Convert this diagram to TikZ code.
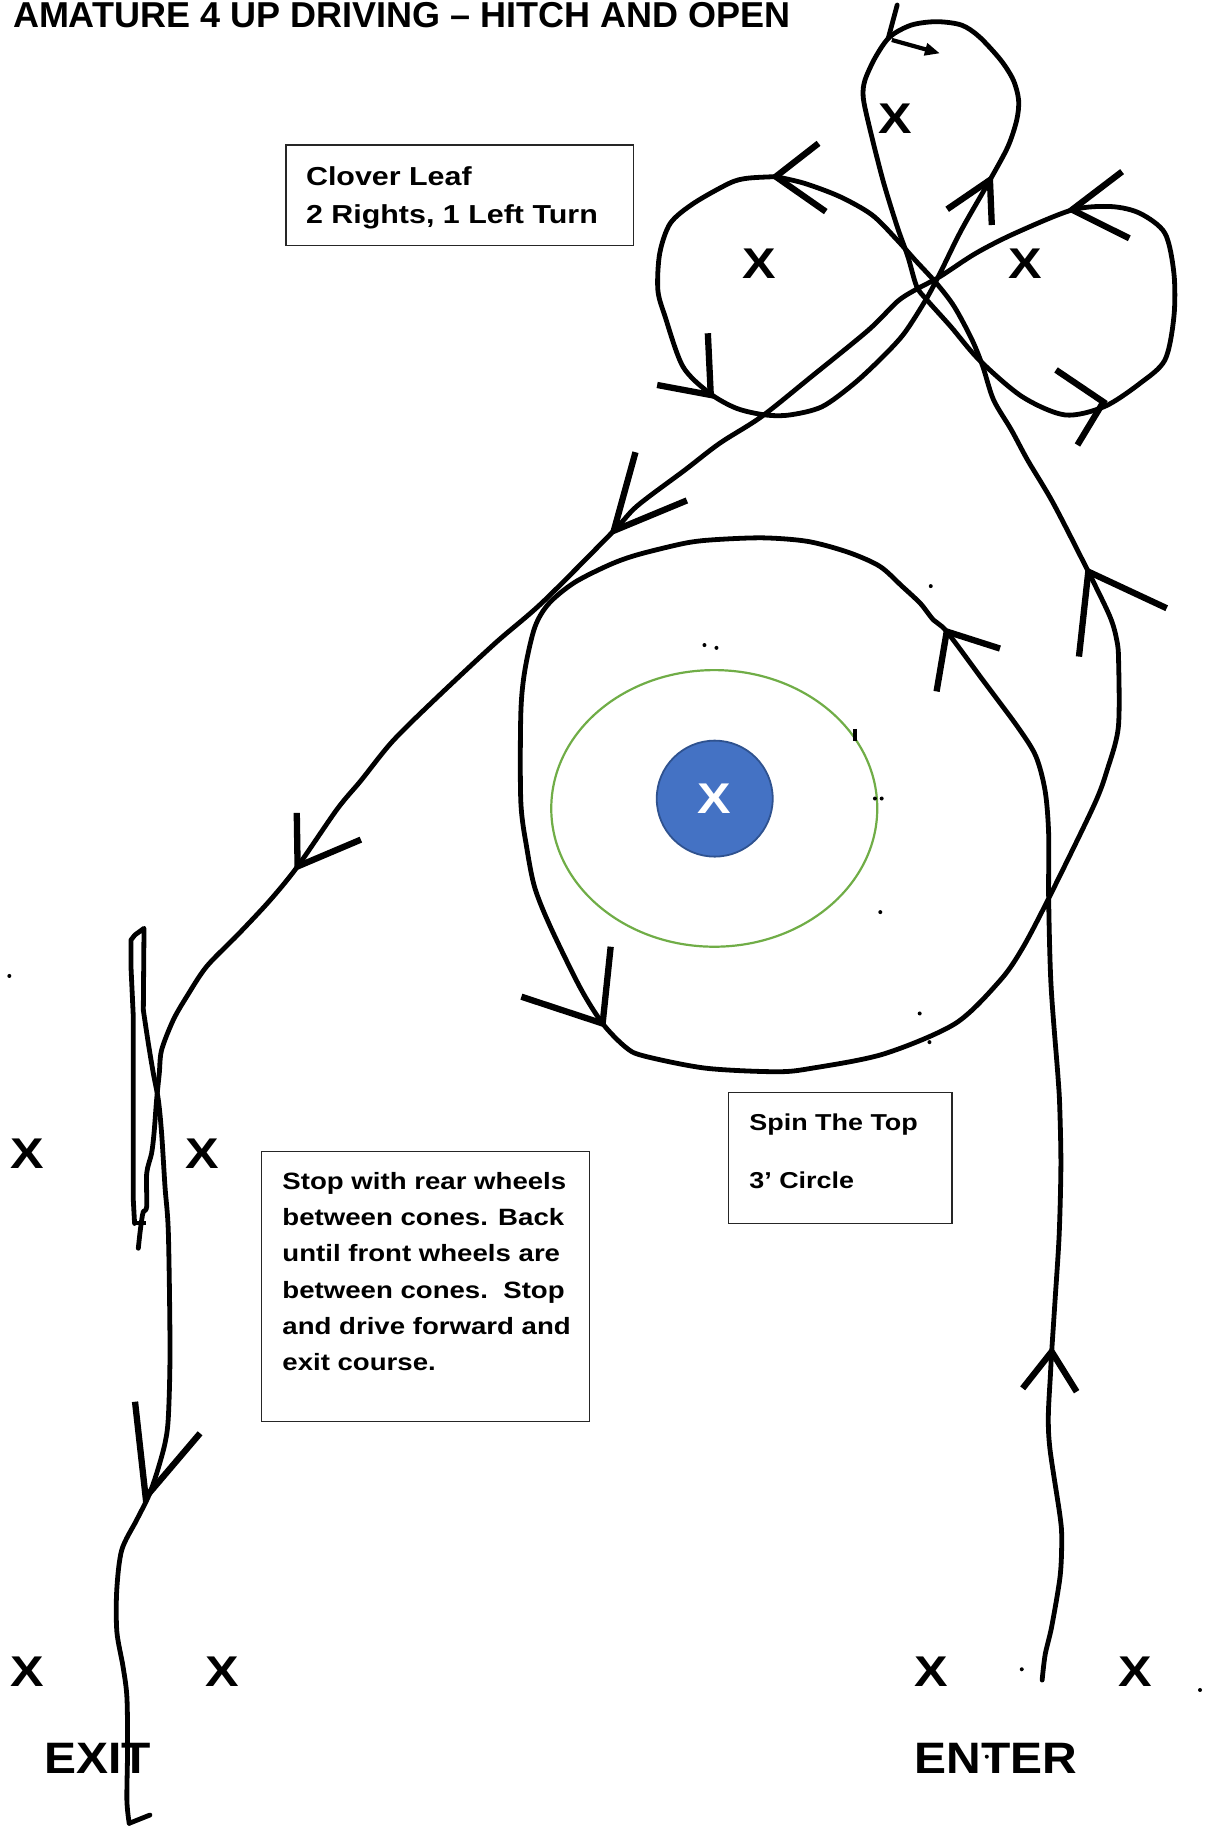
\documentclass[tikz,border=0pt]{standalone}
\usepackage{fontspec}
\usetikzlibrary{arrows.meta}
\setmainfont{Liberation Sans}
\newfontfamily\blk[FakeStretch=1.17]{Liberation Sans}
\newfontfamily\blkn[FakeStretch=1.09]{Liberation Sans}
\newfontfamily\ttl{Liberation Sans}
\definecolor{spinblue}{HTML}{4472C4}
\definecolor{spinedge}{HTML}{2F528F}
\definecolor{spingreen}{HTML}{70AD47}
\tikzset{
  route/.style={line width=4.8pt,line cap=round,line join=round},
  barb/.style={line width=6.3pt,line cap=butt},
  txtbox/.style={line width=1.2pt,draw=black!85},
  cone/.style={inner sep=0pt,font=\blk\bfseries\fontsize{43}{43}\selectfont},
  boxtext/.style={inner sep=0pt,anchor=base west,font=\blk\bfseries\fontsize{23.6}{28}\selectfont},
  speck/.style={fill=black,circle,inner sep=0pt,minimum size=4pt},
}
\begin{document}
\begin{tikzpicture}[x=1.1652pt,y=-1.1652pt]
\useasboundingbox (0,0) rectangle (1035,1568);
% title
\node[inner sep=0pt,anchor=base west,font=\ttl\bfseries\fontsize{36}{40}\selectfont] (title) at (11,23.4) {AMATURE 4 UP DRIVING – HITCH AND OPEN};
% text boxes
\draw[txtbox] (245.5,124.5) rectangle (544,211);
\node[boxtext,font=\blk\bfseries\fontsize{26}{30}\selectfont] (cl1) at (262.5,158.8) {Clover Leaf};
\node[boxtext,font=\blk\bfseries\fontsize{26}{30}\selectfont] (cl2) at (262.5,192) {2 Rights, 1 Left Turn};
\draw[txtbox] (625.2,937.8) rectangle (817,1049.9);
\node[boxtext,font=\blk\bfseries\fontsize{23}{28}\selectfont] (sp1) at (643,970) {Spin The Top};
\node[boxtext,font=\blk\bfseries\fontsize{23}{28}\selectfont] (sp2) at (643,1020) {3’ Circle};
\draw[txtbox] (224.4,988.4) rectangle (505.9,1220.1);
\node[boxtext] (st1) at (242.2,1020.5) {Stop with rear wheels};
\node[boxtext] (st2) at (242.2,1051.7) {between cones. Back};
\node[boxtext] (st3) at (242.2,1082.9) {until front wheels are};
\node[boxtext] (st4) at (242.2,1114.1) {between cones.\ \ Stop};
\node[boxtext] (st5) at (242.2,1145.3) {and drive forward and};
\node[boxtext] (st6) at (242.2,1176.5) {exit course.};
% cones
\node[cone] (c1) at (768.4,102.3) {X};
\node[cone] (c2) at (652,226.7) {X};
\node[cone] (c3) at (880.3,226.7) {X};
\node[cone] (c4) at (23.6,990.5) {X};
\node[cone] (c5) at (173.8,990.5) {X};
\node[cone] (c6) at (23.8,1434.7) {X};
\node[cone] (c7) at (190.8,1434.7) {X};
\node[cone] (c8) at (799.3,1434.7) {X};
\node[cone] (c9) at (974.2,1434.7) {X};
\node[inner sep=0pt,anchor=base west,font=\blkn\bfseries\fontsize{44}{44}\selectfont] (exit) at (38,1522) {EXIT};
\node[inner sep=0pt,anchor=base west,font=\blkn\bfseries\fontsize{44}{44}\selectfont] (enter) at (785,1522) {ENTER};
% spin the top circle
\draw[spingreen,line width=2.2pt] (613,693.8) ellipse [x radius=139.9,y radius=118.7];
\node[circle,fill=spinblue,draw=spinedge,line width=1.8pt,minimum size=116pt,inner sep=0pt] (top) at (613.4,685.4) {};
\node[cone,text=white] (topx) at (top.center) {X};
% specks
\foreach \p in {(604.6,553.6),(614.9,556),(750.9,685.3),(756.7,685.3),(755.5,782.8),(789.3,869.8),(797.7,894.4),(798.8,503),(8,837.6),(876.9,1432.6),(1029.9,1450.4),(846.9,1507.6)}
  \node[speck] at \p {};
\draw[line width=4pt] (733.7,625.6) -- (733.7,636.3);
% route: enter and spin the top
\draw[route] plot[smooth,tension=0.5] coordinates {(894.4,1441.9) (897,1420) (902.6,1396) (909.8,1353) (911.2,1321.7) (909.8,1301.6) (901.2,1244.4) (899.7,1215.8) (901.5,1180) (902.6,1160) (905.5,1115.7) (909,1060) (910.5,1000) (909.5,950) (908,924) (902,845) (900,771) (900,716) (897,679) (889,649) (873.5,624) (843,583) (812.5,542) (801,532) (790,518) (774,503) (755,486) (728,474) (693.5,464.7) (655,461.6) (613,463.2) (587.8,466.2) (547.5,476) (523.4,484.6) (492.9,500) (471,518) (459,538.3) (450.5,575) (447,611.8) (447,688.4) (452.2,728.3) (459,762) (472.5,795.7) (498,847.8) (517.2,878.4) (536.4,898.3) (551.7,906) (605.3,916.7) (666.6,919.8) (697.3,916.7) (758.6,904.5) (819.9,878.4) (858.2,841.6) (877.4,814) (900,771) (938.7,691.5) (950.2,660.8) (959.8,624) (960,566.4) (958.4,549.2) (952.6,529.2) (934,490.6) (904,432) (882,395) (868,369) (852.7,343.2) (843.5,314.6) (834.3,291.8) (819,263.2) (803.7,243.1) (785.3,223.1) (770,206) (748.5,184.5) (720.9,168.8) (690.3,157.3) (665.8,151.6)};
% clover leaf
\draw[route] plot[smooth,tension=0.5] coordinates {(665.8,151.6) (641.2,153) (625.9,157.3) (595.3,174.5) (575.3,191.6) (566.2,217.4) (564.6,248.9) (570.8,271.7) (586.1,314.6) (609.1,337.5) (632,350.4) (656.6,356.1) (678,356.1) (705.6,349) (733.2,329) (757.7,306.1) (776.1,286) (794.5,257.4) (806.7,234.6) (825.1,197.4) (849.6,154.5) (865,125.9) (872.6,103) (874.2,85.8) (869.6,68.6) (858.8,51.5) (840.4,31.5) (825.1,21.5) (803.7,18.6) (782.2,21.5) (763.8,31.5) (751.6,48.6) (742.4,68.6) (740.8,83) (745.4,105.8) (757.7,154.5) (770,194.5) (779.2,220.3) (786.8,246) (796,258) (816,280.3) (840.4,308.9) (877.2,340.4) (914,356.1) (947.7,349) (978.4,329) (999.8,308.9) (1007.5,271.7) (1007.5,234.6) (999.8,200.2) (978.4,183.1) (953.8,177.3) (920.1,180.2) (871.1,200.2) (837.4,217.4) (806.7,237.4) (785.3,248.9) (770,258.9) (745.4,283.2) (696.4,323.2) (653.5,357.6) (617.7,380.4) (587.8,403.4) (547.1,434) (526.8,455.5) (465.7,516.8) (425,552) (374.1,599.5) (336.8,636.3) (309.7,670) (289.3,694.5) (255.4,743.6) (231.7,772.7) (204.5,801.8) (177.4,829.4) (160.2,855.4) (148.7,875.4) (138.7,901.1) (136.7,921.2) (134.4,944) (132.2,972.6) (130.1,989.8) (125.9,1007) (125.9,1035.6) (123,1039.8) (121.6,1047) (120.1,1058.4) (118.7,1071.3)};
% back-up and exit
\draw[route] (115.5,1050) -- (114.4,1029.8) -- (114.4,872.5) -- (112.4,829.6) -- (112.4,806.7) -- (115.8,802.4) -- (123.6,796.7) -- (123,866.8);
\draw[route] plot[smooth,tension=0.5] coordinates {(123,866.8) (127.3,895.4) (131.6,921.2) (135.9,944) (138.7,972.6) (141.6,1018.4) (144.5,1058.4) (145.9,1158.5) (144.5,1215.8) (141.6,1238.7) (134.5,1264.4) (127.3,1284.5) (117.3,1304.5) (104.5,1330.2) (100.2,1364.6) (100.3,1400.4) (105.6,1430.4) (108.9,1456.2) (109.5,1500) (108.9,1544.8) (110.9,1564.8)};
\draw[route] (110.9,1564.8) -- (128.7,1557.7);
\draw[line width=4pt] (114.4,1049.9) -- (125.3,1049.9);
% start mark
\draw[route] (770,4.3) -- (762.3,32.9);
\draw[line width=4.2pt,-{Triangle[length=15pt,width=12pt]}] (765.4,34.3) -- (806.7,45.8);
% direction barbs
\draw[barb] (877.7,1191.5) -- (902.6,1160) -- (924,1194.4);
\draw[barb] (858.2,556.6) -- (812.5,542) -- (803.8,593.4);
\draw[barb] (447.5,855.4) -- (517.2,878.4) -- (524.1,812.5);
\draw[barb] (1001.3,522) -- (934,490.6) -- (926,563.5);
\draw[barb] (702.5,123) -- (665.8,151.6) -- (708.7,181.6);
\draw[barb] (607.5,286) -- (610,339) -- (564,330.4);
\draw[barb] (812.9,179.6) -- (849.6,154.5) -- (851.2,193.1);
\draw[barb] (906.3,317.5) -- (947,345) -- (924.7,381.9);
\draw[barb] (963,147.3) -- (920.1,180) -- (969.2,204.5);
\draw[barb] (545.4,388.1) -- (526.8,455.5) -- (589.5,429.5);
\draw[barb] (254.7,697.6) -- (255.4,743.6) -- (309.7,720.6);
\draw[barb] (115.9,1203) -- (125,1285) -- (171.7,1230.1);
\end{tikzpicture}
\end{document}
